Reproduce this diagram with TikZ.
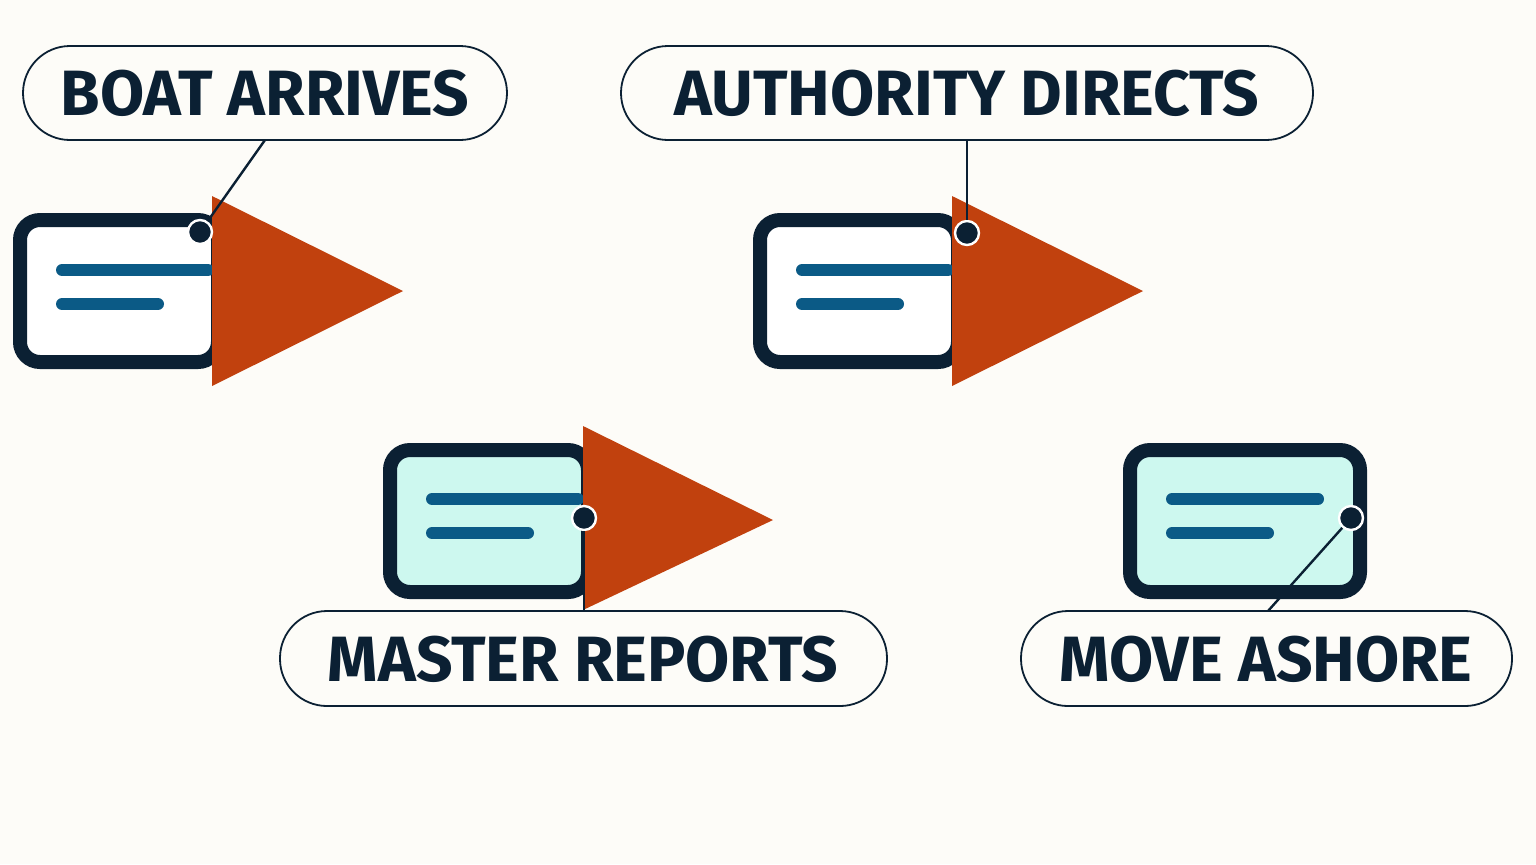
\documentclass[tikz,border=0pt]{standalone}
\usepackage{fontspec}
\setmainfont{Fira Sans}
\definecolor{bg}{HTML}{FDFCF8}
\definecolor{navy}{HTML}{0B2033}
\definecolor{blu}{HTML}{0B5A86}
\definecolor{rust}{HTML}{C1410E}
\definecolor{mint}{HTML}{CDF8EF}
\tikzset{x=0.5pt,y=-0.5pt,
card/.style={draw=navy,line width=7pt,rounded corners=10pt},
bar/.style={draw=blu,line width=6pt,line cap=round},
tri/.style={fill=rust},
pill/.style={draw=navy,line width=0.9pt,rounded corners=23.5pt,fill=bg},
lbl/.style={font=\fontsize{32}{36}\selectfont\bfseries,text=navy},
lead/.style={draw=navy,line width=1.2pt},
dot/.style={circle,fill=navy,draw=white,line width=1.2pt,minimum size=12pt,inner sep=0pt}}
\begin{document}
\begin{tikzpicture}
\fill[bg] (0,0) rectangle (1536,864);
% card 1
\draw[card,fill=white] (20,220) rectangle (218,362);
\draw[bar] (62,270)--(208,270); \draw[bar] (62,304)--(158,304);
\fill[tri] (212,196)--(212,386)--(403,291)--cycle;
\draw[pill] (23,46) rectangle (507,140);
\node[lbl] (l1) at (265,93) {BOAT ARRIVES};
\node[dot] (d1) at (200,232) {};
\coordinate (c1) at (265,140);
\draw[lead] (c1)--(d1);
% card 2
\draw[card,fill=white] (760,220) rectangle (958,362);
\draw[bar] (802,270)--(948,270); \draw[bar] (802,304)--(898,304);
\fill[tri] (952,196)--(952,386)--(1143,291)--cycle;
\draw[pill] (621,46) rectangle (1313,140);
\node[lbl] (l2) at (967,93) {AUTHORITY DIRECTS};
\node[dot] (d2) at (967,233) {};
\coordinate (c2) at (967,140);
\draw[lead] (c2)--(d2);
% card 3
\draw[card,fill=mint] (390,450) rectangle (588,592);
\draw[bar] (432,499)--(578,499); \draw[bar] (432,533)--(528,533);
\fill[tri] (583,426)--(583,610)--(773,520)--cycle;
\coordinate (c3) at (584,611);
\node[dot] (d3) at (584,518) {};
\draw[lead] (c3)--(d3);
\draw[pill] (280,611) rectangle (887,706);
\node[lbl] (l3) at (583,659) {MASTER REPORTS};
% card 4
\draw[card,fill=mint] (1130,450) rectangle (1360,592);
\draw[bar] (1172,499)--(1318,499); \draw[bar] (1172,533)--(1268,533);
\coordinate (c4) at (1268,611);
\node[dot] (d4) at (1351,518) {};
\draw[lead] (c4)--(d4);
\draw[pill] (1021,611) rectangle (1512,706);
\node[lbl] (l4) at (1266,659) {MOVE ASHORE};
\end{tikzpicture}
\end{document}
